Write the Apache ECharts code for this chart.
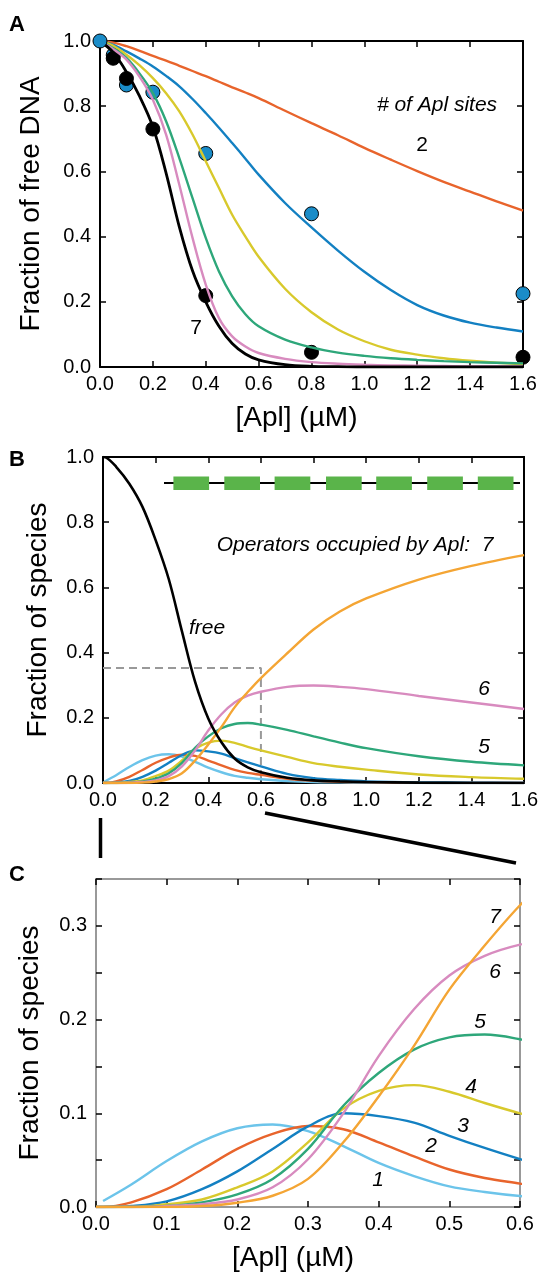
<!DOCTYPE html>
<html>
<head>
<meta charset="utf-8">
<script src="https://cdn.jsdelivr.net/npm/echarts@6/dist/echarts.min.js"></script>
<style>
html, body { margin: 0; padding: 0; background: #fff; }
#chart { width: 541px; height: 1273px; }
</style>
</head>
<body>
<div id="chart"></div>
<script>
// A: fraction of free DNA vs [Apl], one curve per number of Apl sites
const xA = [0, 0.05, 0.1, 0.15, 0.2, 0.25, 0.3, 0.35, 0.4, 0.45, 0.5, 0.55, 0.6, 0.7, 0.8, 0.9, 1.0, 1.1, 1.2, 1.3, 1.4, 1.5, 1.6]
const sites2 = [1, 0.995, 0.984, 0.97, 0.954, 0.94, 0.924, 0.908, 0.892, 0.875, 0.858, 0.842, 0.825, 0.786, 0.748, 0.711, 0.672, 0.636, 0.601, 0.568, 0.538, 0.508, 0.48]
const sites3 = [1, 0.988, 0.968, 0.946, 0.922, 0.893, 0.861, 0.822, 0.779, 0.734, 0.687, 0.639, 0.59, 0.503, 0.428, 0.357, 0.292, 0.236, 0.19, 0.158, 0.136, 0.121, 0.109]
const sites4 = [1, 0.985, 0.958, 0.925, 0.886, 0.84, 0.784, 0.713, 0.631, 0.549, 0.467, 0.40, 0.338, 0.24, 0.168, 0.115, 0.079, 0.053, 0.038, 0.027, 0.019, 0.013, 0.009]
const sites5 = [1, 0.978, 0.948, 0.90, 0.84, 0.754, 0.641, 0.518, 0.396, 0.293, 0.217, 0.162, 0.125, 0.084, 0.06, 0.044, 0.034, 0.027, 0.022, 0.018, 0.015, 0.013, 0.011]
const sites6 = [1, 0.975, 0.943, 0.89, 0.82, 0.713, 0.559, 0.396, 0.253, 0.15, 0.094, 0.063, 0.043, 0.025, 0.015, 0.01, 0.007, 0.005, 0.004, 0.003, 0.002, 0.002, 0.002]
const sites7 = [1, 0.965, 0.905, 0.83, 0.737, 0.595, 0.43, 0.295, 0.2, 0.125, 0.072, 0.04, 0.022, 0.007, 0.002, 0.001, 0, 0, 0, 0, 0, 0, 0]
// measured points
const ptsBlueX = [0, 0.05, 0.1, 0.2, 0.4, 0.8, 1.6]
const ptsBlueY = [1.0, 0.957, 0.865, 0.843, 0.655, 0.47, 0.225]
const ptsBlackX = [0.05, 0.1, 0.2, 0.4, 0.8, 1.6]
const ptsBlackY = [0.947, 0.885, 0.73, 0.219, 0.045, 0.03]

// B and C: fraction of each species for DNA with 7 operators
const xB = [0, 0.01, 0.05, 0.1, 0.15, 0.2, 0.25, 0.3, 0.35, 0.4, 0.45, 0.5, 0.55, 0.6, 0.7, 0.8, 0.9, 1.0, 1.2, 1.4, 1.6]
const free = [1, 0.999, 0.97, 0.918, 0.847, 0.745, 0.625, 0.465, 0.31, 0.198, 0.125, 0.075, 0.048, 0.033, 0.016, 0.008, 0.005, 0.003, 0.001, 0, 0]
const occ1 = [0, 0.0064, 0.024, 0.049, 0.070, 0.084, 0.088, 0.081, 0.065, 0.047, 0.033, 0.022, 0.016, 0.0117, 0.006, 0.003, 0.002, 0.001, 0, 0, 0]
const occ2 = [0, 0, 0.005, 0.019, 0.040, 0.062, 0.078, 0.0865, 0.083, 0.069, 0.054, 0.040, 0.031, 0.025, 0.013, 0.007, 0.004, 0.003, 0.001, 0.001, 0]
const occ3 = [0, 0, 0.001, 0.006, 0.019, 0.038, 0.062, 0.086, 0.100, 0.097, 0.090, 0.076, 0.063, 0.051, 0.028, 0.015, 0.009, 0.005, 0.002, 0.001, 0]
const occ4 = [0, 0, 0, 0.003, 0.008, 0.021, 0.038, 0.069, 0.105, 0.124, 0.130, 0.123, 0.111, 0.100, 0.080, 0.061, 0.050, 0.041, 0.026, 0.018, 0.013]
const occ5 = [0, 0, 0, 0.001, 0.005, 0.0135, 0.030, 0.062, 0.108, 0.143, 0.168, 0.181, 0.184, 0.179, 0.163, 0.143, 0.124, 0.107, 0.082, 0.065, 0.054]
const occ6 = [0, 0, 0, 0.001, 0.003, 0.008, 0.021, 0.051, 0.100, 0.161, 0.211, 0.247, 0.268, 0.280, 0.295, 0.299, 0.295, 0.288, 0.267, 0.247, 0.227]
const occ7 = [0, 0, 0, 0, 0.001, 0.0046, 0.012, 0.030, 0.069, 0.118, 0.172, 0.232, 0.279, 0.322, 0.398, 0.471, 0.526, 0.566, 0.624, 0.666, 0.699]
// grey guide in B
const dashX = [0, 0.6, 0.6]
const dashY = [0.353, 0.353, 0]

const colors = {
  1: '#6cc4ea', 2: '#e8642c', 3: '#1380c2', 4: '#d8c92c',
  5: '#2ea77a', 6: '#d88bbf', 7: '#f4a534'
}

const FONT = 'Liberation Sans, Arial, sans-serif'
const zip = (xs, ys) => xs.map((x, i) => [x, ys[i]])

// bottom/left axis with labels plus a mirrored top/right axis with ticks only
function xAxes (g, max, interval, lineColor, name) {
  const base = {
    type: 'value', gridIndex: g, min: 0, max, interval,
    axisLine: { onZero: false, lineStyle: { color: lineColor, width: 2 } },
    axisTick: { inside: true, length: 6, lineStyle: { color: '#000', width: 1.5 } },
    splitLine: { show: false }
  }
  return [
    Object.assign({}, base, {
      position: 'bottom',
      axisLabel: { fontFamily: FONT, fontSize: 20, color: '#000', margin: 7, formatter: v => v.toFixed(1) },
      name, nameLocation: 'middle', nameGap: 37,
      nameTextStyle: { fontFamily: FONT, fontSize: 28, color: '#000', padding: [0, 30, 0, 0] }
    }),
    Object.assign({}, base, { position: 'top', axisLabel: { show: false } })
  ]
}

function yAxes (g, max, interval, lineColor, name, gap, fmt) {
  const base = {
    type: 'value', gridIndex: g, min: 0, max, interval,
    axisLine: { onZero: false, lineStyle: { color: lineColor, width: 2 } },
    axisTick: { inside: true, length: 6, lineStyle: { color: '#000', width: 1.5 } },
    splitLine: { show: false }
  }
  return [
    Object.assign({}, base, {
      position: 'left',
      axisLabel: { fontFamily: FONT, fontSize: 20, color: '#000', margin: 9, formatter: fmt },
      name, nameLocation: 'middle', nameGap: gap,
      nameTextStyle: { fontFamily: FONT, fontSize: 28, color: '#000' }
    }),
    Object.assign({}, base, { position: 'right', axisLabel: { show: false } })
  ]
}

function line (xi, yi, data, color, width) {
  return {
    type: 'line', xAxisIndex: xi, yAxisIndex: yi, data,
    smooth: 0.35, showSymbol: false, silent: true,
    lineStyle: { color, width: width || 2.4 }
  }
}

function text (x, y, str, size, style, weight) {
  return {
    type: 'text', x, y, z: 100,
    style: {
      text: str, fill: '#000', textAlign: 'center', textVerticalAlign: 'middle',
      font: (style || 'normal') + ' ' + (weight || 'normal') + ' ' + size + 'px ' + FONT
    }
  }
}

const fmt1 = v => v.toFixed(1)
const fmtC = v => (Math.round(v * 100) % 10 === 0 ? v.toFixed(1) : '')

// DNA sketch with 7 operators
const boxX = [173.4, 224.3, 274.6, 326, 376.2, 427.2, 477.8]
const dna = [{
  type: 'line', shape: { x1: 164, y1: 483, x2: 520, y2: 483 },
  style: { stroke: '#000', lineWidth: 2 }
}].concat(boxX.map(x => ({
  type: 'rect', shape: { x, y: 476.5, width: 35.7, height: 13.5 },
  style: { fill: '#5ab44a' }
})))

const dot = color => ({ color, borderColor: '#000', borderWidth: 1, opacity: 1 })

const option = {
  backgroundColor: '#fff',
  animation: false,
  grid: [
    { left: 100, top: 41, width: 423, height: 326 },
    { left: 103, top: 457, width: 422, height: 326 },
    { left: 96, top: 879, width: 424, height: 328 }
  ],
  xAxis: [
    ...xAxes(0, 1.6, 0.2, '#000', '[Apl] (µM)'),
    ...xAxes(1, 1.6, 0.2, '#000', ''),
    ...xAxes(2, 0.6, 0.1, '#999', '[Apl] (µM)')
  ],
  yAxis: [
    ...yAxes(0, 1.0, 0.2, '#000', 'Fraction of free DNA', 55, fmt1),
    ...yAxes(1, 1.0, 0.2, '#000', 'Fraction of species', 51, fmt1),
    ...yAxes(2, 0.35, 0.05, '#999', 'Fraction of species', 52, fmtC)
  ],
  series: [
    // A
    line(0, 0, zip(xA, sites2), colors[2]),
    line(0, 0, zip(xA, sites3), colors[3]),
    line(0, 0, zip(xA, sites4), colors[4]),
    line(0, 0, zip(xA, sites5), colors[5]),
    line(0, 0, zip(xA, sites6), colors[6]),
    line(0, 0, zip(xA, sites7), '#000', 2.8),
    {
      type: 'scatter', xAxisIndex: 0, yAxisIndex: 0, clip: false, silent: true,
      data: zip(ptsBlueX, ptsBlueY).slice(1), symbolSize: 14, itemStyle: dot('#1a8cc8')
    },
    {
      type: 'scatter', xAxisIndex: 0, yAxisIndex: 0, clip: false, silent: true,
      data: zip(ptsBlackX, ptsBlackY), symbolSize: 14, itemStyle: dot('#000')
    },
    {
      type: 'scatter', xAxisIndex: 0, yAxisIndex: 0, clip: false, silent: true, z: 5,
      data: zip(ptsBlueX, ptsBlueY).slice(0, 1), symbolSize: 14, itemStyle: dot('#1a8cc8')
    },
    // B
    {
      type: 'line', xAxisIndex: 2, yAxisIndex: 2, data: zip(dashX, dashY),
      showSymbol: false, silent: true,
      lineStyle: { color: '#999', width: 2, type: [8, 5] }
    },
    line(2, 2, zip(xB, occ1), colors[1]),
    line(2, 2, zip(xB, occ2), colors[2]),
    line(2, 2, zip(xB, occ3), colors[3]),
    line(2, 2, zip(xB, occ4), colors[4]),
    line(2, 2, zip(xB, occ5), colors[5]),
    line(2, 2, zip(xB, occ6), colors[6]),
    line(2, 2, zip(xB, occ7), colors[7]),
    line(2, 2, zip(xB, free), '#000', 2.6),
    // C
    line(4, 4, zip(xB, occ1).slice(1), colors[1]),
    line(4, 4, zip(xB, occ2), colors[2]),
    line(4, 4, zip(xB, occ3), colors[3]),
    line(4, 4, zip(xB, occ4), colors[4]),
    line(4, 4, zip(xB, occ5), colors[5]),
    line(4, 4, zip(xB, occ6), colors[6]),
    line(4, 4, zip(xB, occ7), colors[7])
  ],
  graphic: [
    text(17, 25, 'A', 22, 'normal', 'bold'),
    text(17, 460, 'B', 22, 'normal', 'bold'),
    text(17, 875, 'C', 22, 'normal', 'bold'),
    text(437, 105, '# of Apl sites', 21, 'italic'),
    text(422, 145, '2', 21),
    text(196, 328, '7', 21),
    text(355, 545, 'Operators occupied by Apl:  7', 21, 'italic'),
    text(207, 628, 'free', 21, 'italic'),
    text(484, 689, '6', 21, 'italic'),
    text(484, 747, '5', 21, 'italic'),
    text(495, 917, '7', 21, 'italic'),
    text(495, 972, '6', 21, 'italic'),
    text(480, 1022, '5', 21, 'italic'),
    text(471, 1087, '4', 21, 'italic'),
    text(463, 1126, '3', 21, 'italic'),
    text(431, 1146, '2', 21, 'italic'),
    text(378, 1180, '1', 21, 'italic'),
    // zoom connectors between B and C
    { type: 'line', shape: { x1: 100.5, y1: 818, x2: 100.5, y2: 858 }, style: { stroke: '#000', lineWidth: 3.5 } },
    { type: 'line', shape: { x1: 265, y1: 813, x2: 516, y2: 863 }, style: { stroke: '#000', lineWidth: 3.5 } },
    ...dna
  ]
}

const chart = echarts.init(document.getElementById('chart'), null, { renderer: 'canvas' })
chart.setOption(option)
</script>
</body>
</html>
